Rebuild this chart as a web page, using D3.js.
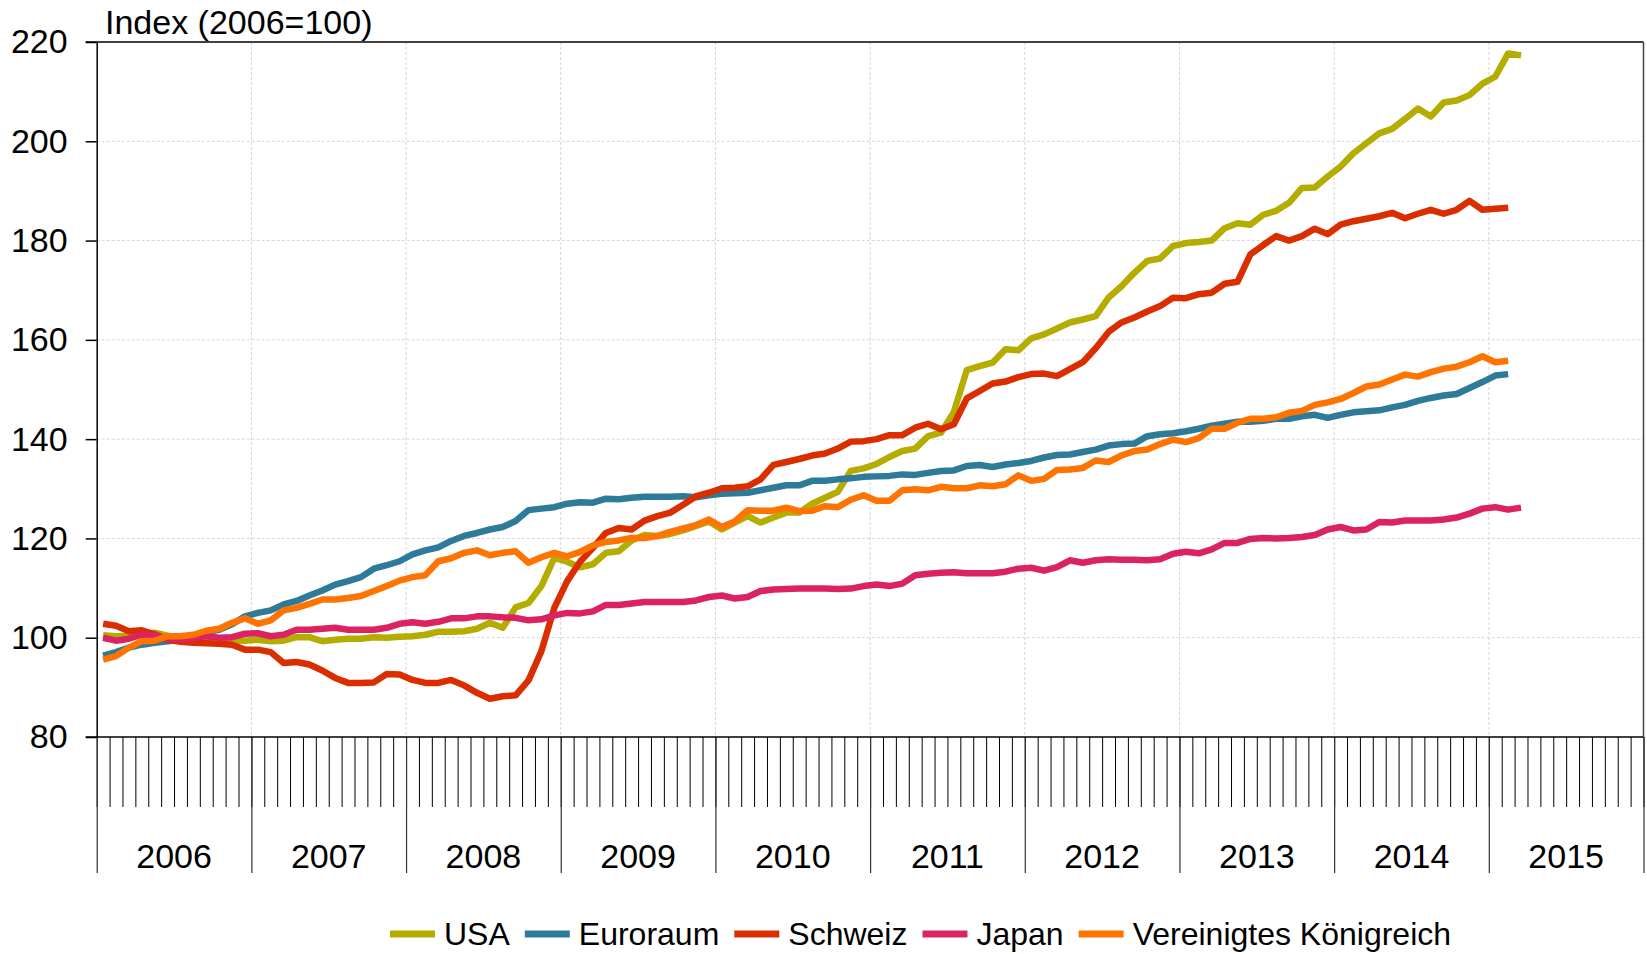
<html>
<head>
<meta charset="utf-8">
<style>
  body { margin: 0; background: #fff; }
  svg { display: block; font-family: "Liberation Sans", Arial, sans-serif; }
  .grid line { stroke: #d6d6d6; stroke-dasharray: 3,2; }
  .series { fill: none; stroke-width: 6.5; stroke-linejoin: round; }
</style>
</head>
<body>
<svg id="chart" width="1647" height="954"></svg>
<script src="https://cdnjs.cloudflare.com/ajax/libs/d3/7.8.5/d3.min.js"></script>
<script>
// monthly values, Jan 2006 onward
var usa = [100.5,100.3,100.4,100.8,101,100.4,100,99.8,99.6,99.5,99.4,99.4,
  99.6,99.3,99.4,100.1,100.1,99.3,99.6,99.8,99.8,100.1,100,100.2,
  100.3,100.6,101.2,101.2,101.3,101.8,103,102,106.1,107,110.4,116.1,
  115.3,114.2,114.8,117.1,117.4,119.6,120.7,120.5,120.9,121.6,122.5,123.4,
  121.8,123.2,124.5,123.2,124.2,125.2,125.2,127,128.2,129.4,133.6,134.1,
  135,136.4,137.6,138.1,140.6,141.3,145.5,153.9,154.7,155.4,158.1,157.9,
  160.3,161.1,162.3,163.5,164.1,164.8,168.5,170.8,173.5,175.9,176.4,178.9,
  179.5,179.7,180,182.5,183.5,183.2,185.2,186,187.6,190.6,190.7,192.9,
  194.9,197.6,199.6,201.6,202.5,204.5,206.6,205,207.8,208.2,209.3,211.6,
  213,217.7,217.3];
var euroraum = [96.4,97.1,98,98.6,99,99.3,99.6,100.3,101.2,101.6,102.7,104.3,
  105,105.5,106.7,107.4,108.5,109.5,110.7,111.4,112.2,113.9,114.6,115.4,
  116.8,117.6,118.2,119.5,120.5,121.1,121.8,122.3,123.5,125.7,126,126.3,
  127,127.3,127.2,128,127.9,128.2,128.4,128.4,128.4,128.5,128.3,128.7,
  129,129.1,129.2,129.7,130.2,130.7,130.7,131.6,131.6,131.9,132.1,132.4,
  132.5,132.6,132.9,132.8,133.2,133.6,133.7,134.6,134.8,134.4,134.9,135.2,
  135.6,136.3,136.8,136.9,137.4,137.9,138.7,139,139.1,140.6,141,141.2,
  141.6,142.1,142.7,143.1,143.5,143.5,143.7,144.1,144.1,144.6,144.9,144.3,
  144.9,145.4,145.6,145.8,146.4,146.9,147.7,148.3,148.8,149.1,150.3,151.5,
  152.8,153.1];
var schweiz = [102.8,102.4,101.3,101.5,100.7,99.6,99.2,99,98.9,98.8,98.6,97.6,
  97.6,97.1,94.9,95.1,94.6,93.4,91.9,90.9,90.9,91,92.7,92.6,
  91.5,90.9,90.9,91.5,90.4,88.9,87.7,88.2,88.4,91.4,97.3,106,
  111.4,115.3,118.1,121.1,122.1,121.8,123.6,124.5,125.2,126.8,128.5,129.2,
  130.1,130.2,130.5,131.9,134.8,135.4,136,136.7,137.1,138.1,139.5,139.6,
  140,140.8,140.8,142.3,143.1,142,143,148.2,149.7,151.2,151.6,152.5,
  153.1,153.2,152.7,154.1,155.5,158.3,161.6,163.5,164.5,165.7,166.8,168.5,
  168.4,169.2,169.5,171.3,171.7,177.2,179.1,180.9,180,180.9,182.4,181.3,
  183.2,183.9,184.4,184.9,185.6,184.5,185.4,186.2,185.4,186.2,188,186.2,
  186.4,186.6];
var japan = [100,99.4,99.8,100.6,100.5,99.8,99.6,100,100.3,100,100.1,100.8,
  100.9,100.3,100.6,101.6,101.6,101.8,102,101.6,101.6,101.6,102,102.8,
  103.1,102.8,103.2,103.9,103.9,104.3,104.3,104.1,104,103.5,103.7,104.5,
  105,104.9,105.3,106.6,106.6,106.9,107.2,107.2,107.2,107.2,107.5,108.2,
  108.5,107.9,108.2,109.4,109.7,109.8,109.9,109.9,109.9,109.8,109.9,110.4,
  110.7,110.4,110.9,112.6,112.9,113.1,113.2,113,113,113,113.3,113.9,
  114.1,113.5,114.2,115.6,115.1,115.6,115.8,115.7,115.7,115.6,115.8,116.9,
  117.3,117,117.8,119.1,119.1,119.9,120.1,120,120.1,120.3,120.7,121.8,
  122.3,121.6,121.8,123.3,123.2,123.6,123.6,123.6,123.8,124.2,125,126,
  126.3,125.8,126.2];
var vk = [95.6,96.3,98,99.3,99.4,100.3,100.3,100.6,101.4,101.8,103,103.9,
  102.8,103.5,105.5,106,106.8,107.7,107.7,108,108.4,109.4,110.4,111.5,
  112.2,112.6,115.4,116,117.1,117.6,116.6,117.1,117.4,115.1,116.2,117.1,
  116.4,117.3,118.6,119.3,119.6,120.1,120.1,120.5,121.3,122,122.7,123.8,
  122.3,123.4,125.7,125.6,125.6,126.2,125.5,125.6,126.5,126.3,127.8,128.7,
  127.6,127.6,129.7,129.9,129.7,130.4,130.1,130.1,130.7,130.5,130.9,132.7,
  131.6,132,133.8,133.9,134.2,135.7,135.4,136.7,137.6,137.9,139,139.9,
  139.4,140.2,142.1,142.1,143.3,144.1,144.1,144.4,145.3,145.7,146.9,147.4,
  148.1,149.3,150.6,151,152,153,152.6,153.5,154.2,154.6,155.5,156.7,
  155.5,155.8];

var years = [2006,2007,2008,2009,2010,2011,2012,2013,2014,2015];
var yTicks = [80,100,120,140,160,180,200,220];
var names = ["USA","Euroraum","Schweiz","Japan","Vereinigtes Königreich"];
var colors = ["#b5ac00","#2e7a99","#da2e00","#db2364","#ff7300"];
var seriesData = [usa, euroraum, schweiz, japan, vk];

var svg = d3.select("#chart");

var plotLeft = 96.7, plotRight = 1643.5, plotTop = 42, plotBottom = 737;

var x = d3.scaleLinear().domain([0, years.length * 12]).range([plotLeft, plotRight]);
var y = d3.scaleLinear().domain([80, 220]).range([plotBottom, plotTop]);

// grid
var grid = svg.append("g").attr("class", "grid");
grid.selectAll("line.h")
  .data(yTicks.slice(1, -1))
  .enter().append("line")
  .attr("x1", plotLeft).attr("x2", plotRight)
  .attr("y1", function(d) { return y(d); })
  .attr("y2", function(d) { return y(d); });
grid.selectAll("line.v")
  .data(d3.range(1, years.length))
  .enter().append("line")
  .attr("x1", function(d) { return x(d * 12); })
  .attr("x2", function(d) { return x(d * 12); })
  .attr("y1", plotTop).attr("y2", plotBottom);

// frame
svg.append("line").attr("x1", plotLeft - 11).attr("x2", plotRight)
  .attr("y1", plotTop).attr("y2", plotTop).attr("stroke", "#000").attr("stroke-width", 1.5);
svg.append("line").attr("x1", plotRight).attr("x2", plotRight)
  .attr("y1", plotTop).attr("y2", plotBottom).attr("stroke", "#444").attr("stroke-width", 1.5);

// y axis
var yAxis = d3.axisLeft(y).tickValues(yTicks).tickSize(11).tickSizeOuter(0).tickPadding(18);
var gy = svg.append("g").attr("transform", "translate(" + plotLeft + ",0)").call(yAxis);
gy.select(".domain").attr("stroke-width", 1.5);
gy.selectAll(".tick line").attr("stroke-width", 1.5);
gy.selectAll("text").attr("font-size", 34).attr("fill", "#000")
  .attr("font-family", "Liberation Sans, Arial, sans-serif");

// x axis: month ticks
var xAxis = d3.axisBottom(x).tickValues(d3.range(0, years.length * 12 + 1))
  .tickSize(70).tickSizeOuter(0).tickFormat("");
var gx = svg.append("g").attr("transform", "translate(0," + plotBottom + ")").call(xAxis);
gx.select(".domain").remove();
gx.selectAll(".tick line").attr("stroke", "#000").attr("stroke-width", 1);

// year ticks
var yearAxis = d3.axisBottom(x).tickValues(d3.range(0, years.length + 1).map(function(d) { return d * 12; }))
  .tickSize(136).tickSizeOuter(0).tickFormat("");
var gYear = svg.append("g").attr("transform", "translate(0," + plotBottom + ")").call(yearAxis);
gYear.select(".domain").remove();
gYear.selectAll(".tick line").attr("stroke", "#333").attr("stroke-width", 1.2);

svg.append("line").attr("x1", plotLeft - 11).attr("x2", plotRight)
  .attr("y1", plotBottom).attr("y2", plotBottom).attr("stroke", "#000").attr("stroke-width", 1.5);

svg.append("g").selectAll("text")
  .data(years)
  .enter().append("text")
  .attr("x", function(d, i) { return x(i * 12 + 6); })
  .attr("y", 868)
  .attr("text-anchor", "middle")
  .attr("font-size", 34)
  .text(function(d) { return d; });

// title
svg.append("text").attr("x", 105).attr("y", 34).attr("font-size", 34).text("Index (2006=100)");

// lines
var line = d3.line()
  .x(function(d, i) { return x(i + 0.5); })
  .y(function(d) { return y(d); });

svg.append("g").selectAll("path")
  .data(seriesData)
  .enter().append("path")
  .attr("class", "series")
  .attr("stroke", function(d, i) { return colors[i]; })
  .attr("d", line);

// legend
var legend = svg.append("g").attr("transform", "translate(390,934)");
var lx = 0;
names.forEach(function(n, i) {
  var g = legend.append("g").attr("transform", "translate(" + lx + ",0)");
  g.append("line").attr("x1", 0).attr("x2", 45).attr("y1", 0).attr("y2", 0)
    .attr("stroke", colors[i]).attr("stroke-width", 7);
  var t = g.append("text").attr("x", 54).attr("y", 11).attr("font-size", 32).text(n);
  lx += 54 + t.node().getComputedTextLength() + 15;
});
</script>
</body>
</html>
